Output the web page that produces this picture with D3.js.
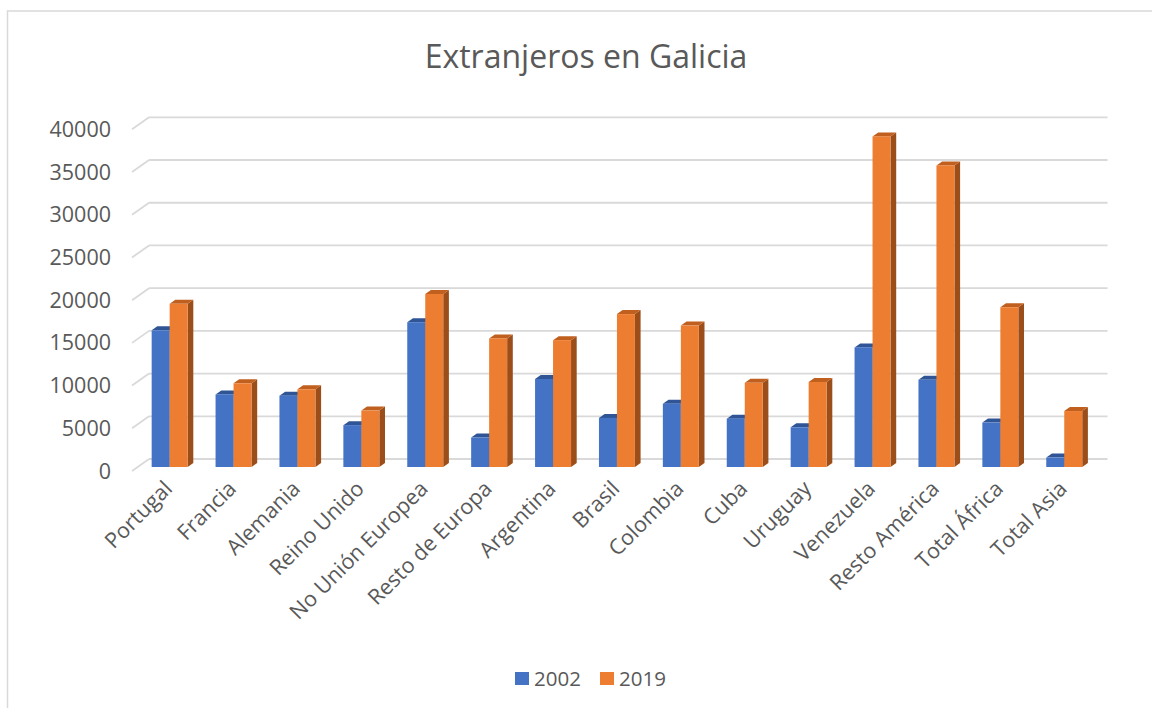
<!DOCTYPE html>
<html>
<head>
<meta charset="utf-8">
<script src="https://cdn.jsdelivr.net/npm/d3@7"></script>
<style>
  body { margin: 0; background: #fff; }
  svg { display: block; font-family: "Open Sans", sans-serif; }
</style>
</head>
<body>
<div id="chart"></div>
<script>
// data
const categories = ["Portugal", "Francia", "Alemania", "Reino Unido", "No Unión Europea",
  "Resto de Europa", "Argentina", "Brasil", "Colombia", "Cuba", "Uruguay",
  "Venezuela", "Resto América", "Total África", "Total Asia"];
const years = ["2002", "2019"];
const values2002 = [16000, 8500, 8350, 4900, 16950, 3450, 10300, 5750, 7400, 5650, 4650, 14000, 10200, 5200, 1100];
const values2019 = [19100, 9800, 9100, 6600, 20250, 15050, 14850, 17900, 16550, 9850, 9950, 38700, 35300, 18700, 6550];
const yTicks = [0, 5000, 10000, 15000, 20000, 25000, 30000, 35000, 40000];

const colors = ["#4472C4", "#ED7D31"];
const topColors = ["#2F5597", "#C05F1E"];
const sideColors = ["#2B4E8C", "#9C4E1A"];

const data = categories.map((c, i) => ({ cat: c, vals: [values2002[i], values2019[i]] }));

const width = 1152, height = 708;
const svg = d3.select("#chart").append("svg")
    .attr("width", width)
    .attr("height", height);

// chart border
svg.append("rect")
    .attr("x", 7.5).attr("y", 11)
    .attr("width", 1160).attr("height", 720)
    .attr("fill", "#fff")
    .attr("stroke", "#d9d9d9")
    .attr("stroke-width", 1.5);

// oblique depth: floor goes (17,-12) from front to back, bars sit in middle third
const depthX = 17, depthY = -12;
const barX0 = 137.7, barX1 = 1096.2;

const x = d3.scaleBand()
    .domain(categories)
    .range([barX0, barX1])
    .paddingInner(0.437)
    .paddingOuter(0.437 / 2);

const xSub = d3.scaleBand()
    .domain(years)
    .range([0, x.bandwidth()]);

const y = d3.scaleLinear()
    .domain([0, 40000])
    .range([467, 125.3]);

// gridlines: short diagonal on floor edge + line on back wall
const grid = svg.append("g");
yTicks.forEach(t => {
    const yb = y(t);
    grid.append("line")
        .attr("x1", barX0 - depthX / 3).attr("y1", yb - depthY / 3)
        .attr("x2", barX0 + depthX * 2 / 3).attr("y2", yb + depthY * 2 / 3)
        .attr("stroke", "#d9d9d9").attr("stroke-width", 1.8);
    grid.append("line")
        .attr("x1", barX0 + depthX * 2 / 3).attr("y1", yb + depthY * 2 / 3)
        .attr("x2", barX1 + depthX * 2 / 3).attr("y2", yb + depthY * 2 / 3)
        .attr("stroke", "#d9d9d9").attr("stroke-width", 1.8);
});

// y labels
svg.append("g").selectAll("text")
    .data(yTicks)
    .enter().append("text")
        .attr("x", 111)
        .attr("y", d => y(d) - depthY / 3)
        .attr("dy", "0.35em")
        .attr("text-anchor", "end")
        .attr("font-size", 21.5)
        .attr("fill", "#595959")
        .text(d => d);

// bars
const bdx = depthX / 3, bdy = depthY / 3;
const bars = svg.append("g");
data.forEach(d => {
    years.forEach((yr, k) => {
        const x0 = x(d.cat) + xSub(yr);
        const w = xSub.bandwidth();
        const yt = y(d.vals[k]);
        const yb = y(0);
        // side face
        bars.append("path")
            .attr("d", `M${x0 + w},${yt} L${x0 + w + bdx},${yt + bdy} L${x0 + w + bdx},${yb + bdy} L${x0 + w},${yb} Z`)
            .attr("fill", sideColors[k]);
        // top face
        bars.append("path")
            .attr("d", `M${x0},${yt} L${x0 + bdx},${yt + bdy} L${x0 + w + bdx},${yt + bdy} L${x0 + w},${yt} Z`)
            .attr("fill", topColors[k]);
        // front face
        bars.append("rect")
            .attr("x", x0).attr("y", yt)
            .attr("width", w).attr("height", yb - yt)
            .attr("fill", colors[k]);
    });
});

// category labels
svg.append("g").selectAll("text")
    .data(categories)
    .enter().append("text")
        .attr("transform", d => `translate(${x(d) + x.bandwidth() / 2 + 4},${490}) rotate(-45)`)
        .attr("text-anchor", "end")
        .attr("font-size", 21.5)
        .attr("fill", "#595959")
        .text(d => d);

// title
svg.append("text")
    .attr("x", 586).attr("y", 68)
    .attr("text-anchor", "middle")
    .attr("font-size", 32)
    .attr("fill", "#595959")
    .text("Extranjeros en Galicia");

// legend
const legend = svg.append("g");
const legendX = [515, 600];
years.forEach((yr, k) => {
    legend.append("rect")
        .attr("x", legendX[k]).attr("y", 672)
        .attr("width", 14).attr("height", 13)
        .attr("fill", colors[k]);
    legend.append("text")
        .attr("x", legendX[k] + 19).attr("y", 679)
        .attr("dy", "0.35em")
        .attr("font-size", 20.5)
        .attr("fill", "#595959")
        .text(yr);
});
</script>
</body>
</html>
